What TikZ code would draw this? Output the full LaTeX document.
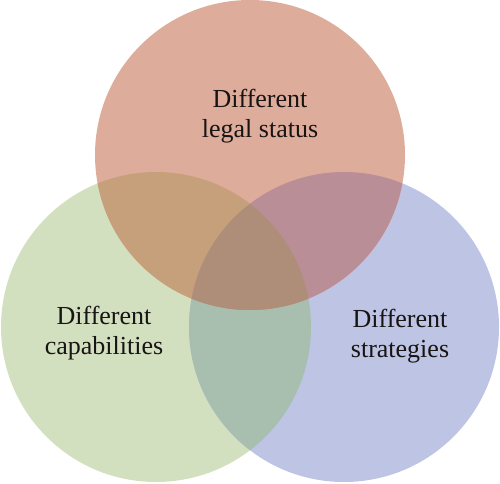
\documentclass[tikz,border=0pt]{standalone}
\usepackage{fontspec}
\setmainfont{Liberation Serif}
\definecolor{cred}{RGB}{222,172,155}
\definecolor{cgreen}{RGB}{210,224,192}
\definecolor{cblue}{RGB}{190,196,228}
\definecolor{crg}{RGB}{198,160,122}
\definecolor{crb}{RGB}{186,142,150}
\definecolor{cgb}{RGB}{168,190,175}
\definecolor{call}{RGB}{174,142,120}
\definecolor{ctext}{RGB}{25,20,20}
\tikzset{
  lbl/.style={align=center, inner sep=0pt, text=ctext, font=\fontsize{26}{30}\selectfont}
}
\begin{document}
\begin{tikzpicture}[x=1pt,y=1pt]
\useasboundingbox (0,0) rectangle (500,483);
\def\R{155}
\coordinate (cr) at (250,328);
\coordinate (cg) at (156,156);
\coordinate (cb) at (344,156);
\fill[cgreen] (cg) circle (\R);
\fill[cblue] (cb) circle (\R);
\fill[cred] (cr) circle (\R);
\begin{scope}
  \clip (cg) circle (\R);
  \fill[cgb] (cb) circle (\R);
  \fill[crg] (cr) circle (\R);
\end{scope}
\begin{scope}
  \clip (cb) circle (\R);
  \fill[crb] (cr) circle (\R);
\end{scope}
\begin{scope}
  \clip (cg) circle (\R);
  \clip (cb) circle (\R);
  \fill[call] (cr) circle (\R);
\end{scope}
\node[lbl] (t1) at (260,367) {Different\\legal status};
\node[lbl] (t2) at (104,150) {Different\\capabilities};
\node[lbl] (t3) at (400,147) {Different\\strategies};
\end{tikzpicture}
\end{document}
